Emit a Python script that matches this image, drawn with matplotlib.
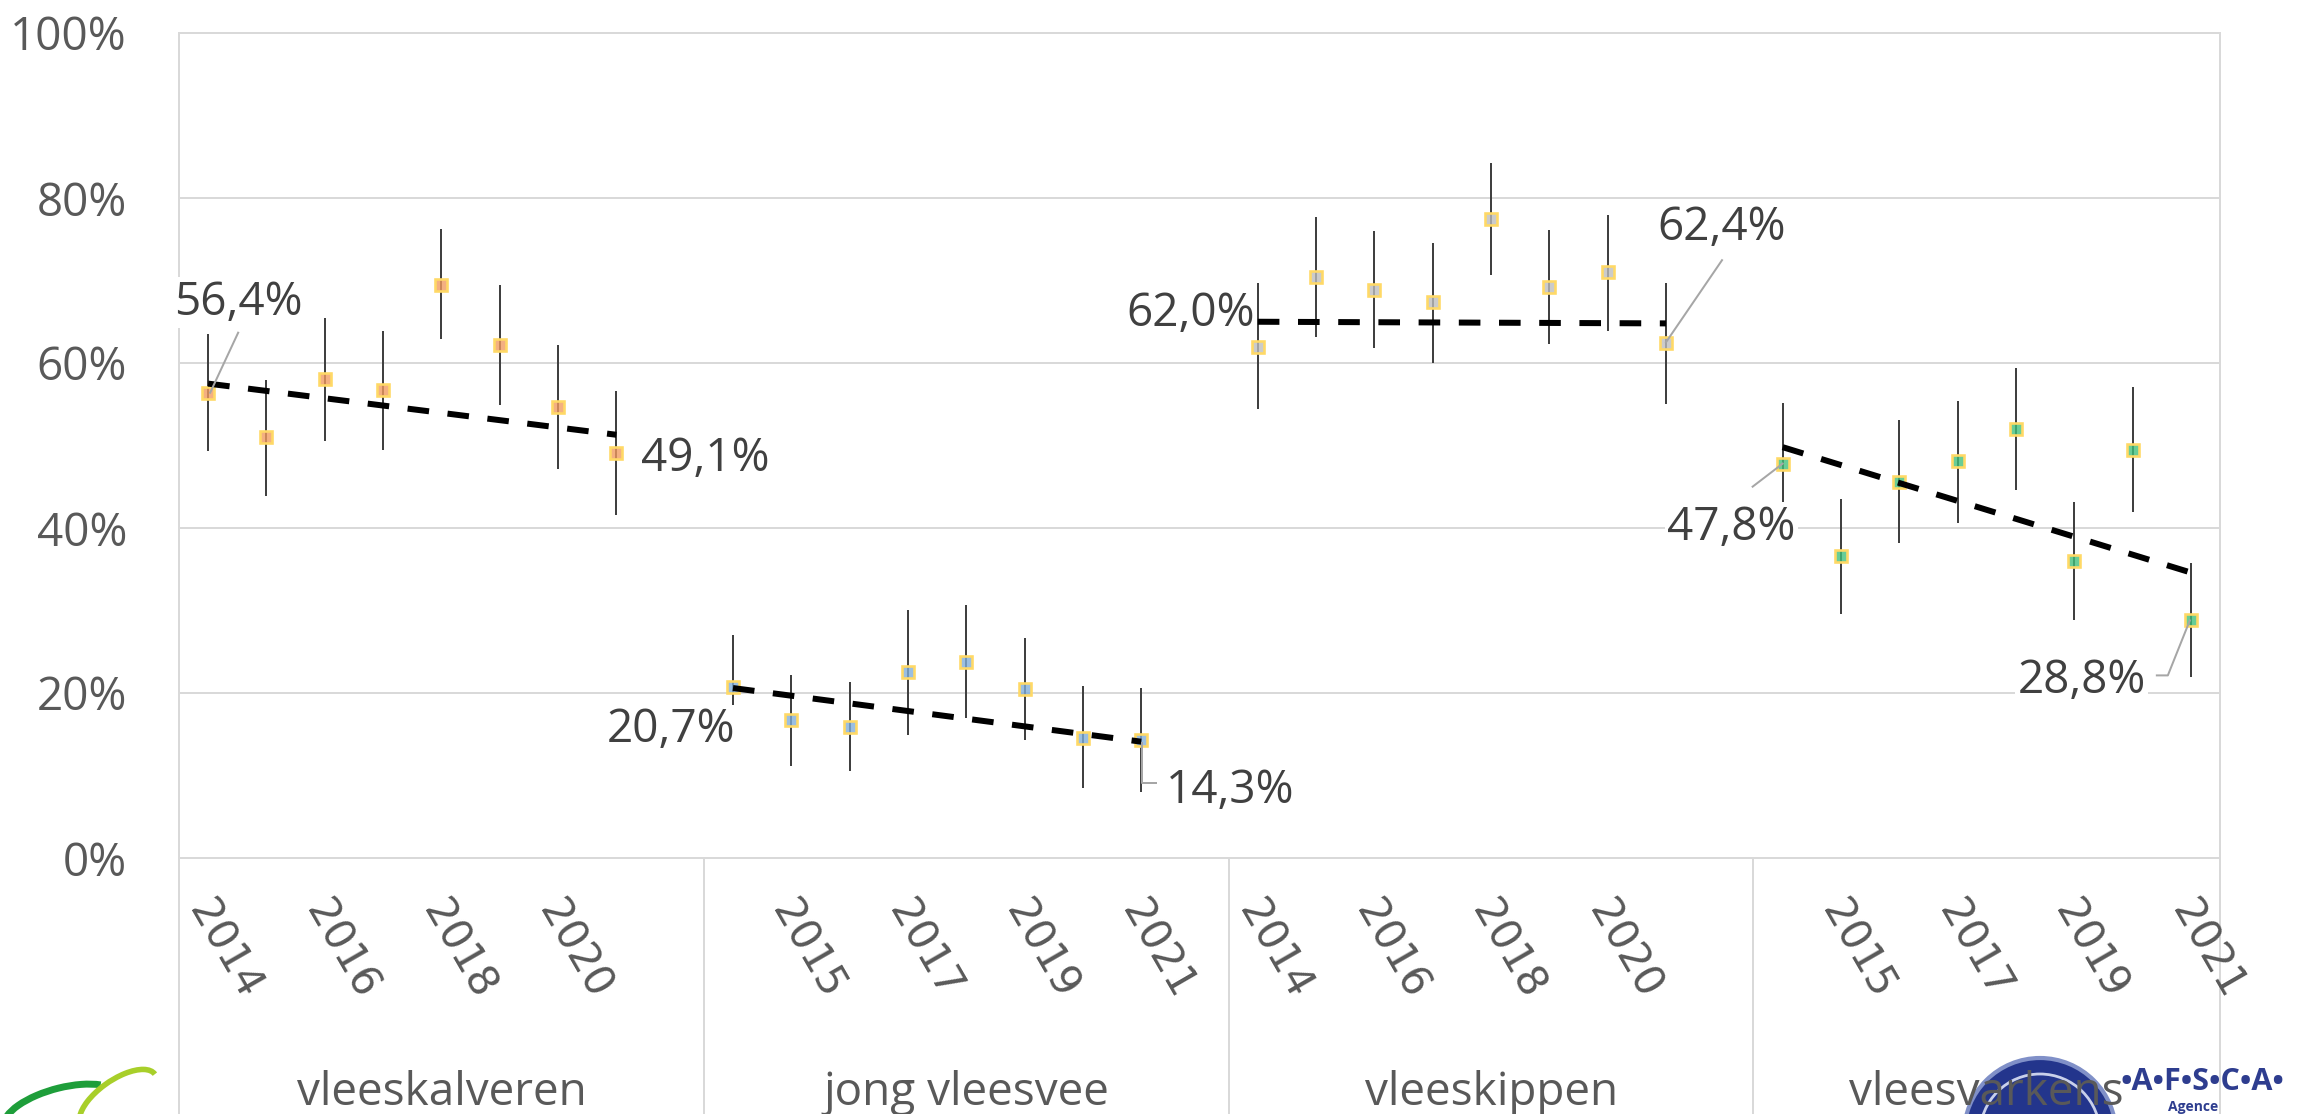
import numpy as np
import matplotlib
matplotlib.use("Agg")
import matplotlib.pyplot as plt
from matplotlib.lines import Line2D
from matplotlib.patches import Circle, Arc
from matplotlib.transforms import IdentityTransform, blended_transform_factory

# ---------------- data ----------------
groups = ["vleeskalveren", "jong vleesvee", "vleeskippen", "vleesvarkens"]
years = [2014, 2015, 2016, 2017, 2018, 2019, 2020, 2021]

kalveren = [56.4, 51.0, 58.1, 56.7, 69.5, 62.2, 54.7, 49.1]
kalveren_lo = [49.3, 43.9, 50.6, 49.5, 62.9, 54.9, 47.1, 41.6]
kalveren_hi = [63.5, 58.0, 65.4, 63.9, 76.2, 69.5, 62.2, 56.6]

jongvee = [20.7, 16.7, 15.9, 22.5, 23.8, 20.5, 14.6, 14.3]
jongvee_lo = [14.4, 11.2, 10.5, 14.9, 17.0, 14.3, 8.5, 8.0]
jongvee_hi = [27.0, 22.2, 21.3, 30.1, 30.7, 26.7, 20.8, 20.6]

kippen = [62.0, 70.4, 68.9, 67.4, 77.5, 69.2, 71.0, 62.4]
kippen_lo = [54.4, 63.1, 61.8, 60.0, 70.7, 62.3, 63.9, 55.0]
kippen_hi = [69.7, 77.7, 76.0, 74.6, 84.2, 76.1, 77.9, 69.7]

varkens = [47.8, 36.6, 45.6, 48.1, 52.0, 36.0, 49.5, 28.8]
varkens_lo = [40.4, 29.6, 38.2, 40.6, 44.6, 28.8, 41.9, 22.0]
varkens_hi = [55.2, 43.5, 53.1, 55.4, 59.4, 43.1, 57.1, 35.7]

trend_start = [57.5, 20.6, 65.0, 49.8]
trend_end = [51.3, 14.1, 64.8, 34.6]

series = [kalveren, jongvee, kippen, varkens]
series_lo = [kalveren_lo, jongvee_lo, kippen_lo, varkens_lo]
series_hi = [kalveren_hi, jongvee_hi, kippen_hi, varkens_hi]

yticks = [0, 20, 40, 60, 80, 100]

# ---------------- style ----------------
fill_colors = ["#F29A5E", "#7FAEDB", "#BDBDBD", "#3FC07A"]
edge_color = "#FFD966"
grid_color = "#D9D9D9"
txt_dark = "#404040"
txt_grey = "#595959"
FONT = ["Open Sans", "DejaVu Sans"]

W, H = 2315, 1114
L, R, T, B = 179, 2220, 33, 858
PT = 72 / 100.0  # points per pixel at dpi 100

fig = plt.figure(figsize=(W / 100, H / 100), dpi=100)
ax = fig.add_axes([L / W, 1 - B / H, (R - L) / W, (B - T) / H])
ax.patch.set_visible(False)

slots_per_group = 9
n_slots = slots_per_group * len(groups) - 1
ax.set_xlim(-0.5, n_slots - 0.5)
ax.set_ylim(0, 100)

# grid & spines
for s in ["top", "bottom"]:
    ax.spines[s].set_visible(False)
for s in ["left", "right"]:
    ax.spines[s].set_color(grid_color)
    ax.spines[s].set_linewidth(2 * PT)
ax.set_yticks(yticks)
ax.set_yticklabels([f"{v}%" for v in yticks], fontfamily=FONT, fontsize=33, color=txt_grey)
ax.tick_params(axis="y", length=0, pad=52 * PT)
ax.set_xticks([])
for v in yticks:
    ax.axhline(v, color=grid_color, lw=2 * PT, zorder=0.5, clip_on=False)

# group separators extending below axis
trans_xa = blended_transform_factory(ax.transData, ax.transAxes)
sep_positions = [g * slots_per_group - 0.5 for g in range(len(groups))] + [n_slots - 0.5]
below = -(H - B) / (B - T)
for xs in sep_positions:
    ax.add_line(Line2D([xs, xs], [0, below], transform=trans_xa, color=grid_color,
                       lw=2 * PT, clip_on=False, zorder=0.5))

# data
for g, (vals, lo, hi) in enumerate(zip(series, series_lo, series_hi)):
    xs = np.arange(len(years)) + g * slots_per_group
    ax.vlines(xs, lo, hi, color="#404040", lw=2 * PT, zorder=2)
    fc = matplotlib.colors.to_rgba(fill_colors[g], 0.78)
    ax.plot(xs, vals, "s", ms=12 * PT, mfc=fc, mec=edge_color, mew=2.6 * PT, zorder=3)
    ax.plot([xs[0], xs[-1]], [trend_start[g], trend_end[g]], color="black",
            lw=6 * PT, ls=(0, (3.6, 3.1)), dash_capstyle="butt", zorder=4)

# year labels (every second category)
for p in range(0, n_slots, 2):
    g, i = divmod(p, slots_per_group)
    if i >= len(years):
        continue
    ax.annotate(str(years[i]), xy=(p, 0), xytext=(-10, -46), textcoords="offset pixels",
                rotation=-60, rotation_mode="anchor", ha="left", va="center",
                fontsize=30, color=txt_grey, fontfamily="DejaVu Sans", annotation_clip=False)

# group labels
for g, name in enumerate(groups):
    x0 = g * slots_per_group - 0.5
    x1 = min(g * slots_per_group + 8.5, n_slots - 0.5)
    ax.annotate(name, xy=((x0 + x1) / 2, 0), xytext=(0, -247), textcoords="offset pixels",
                ha="center", va="baseline", fontsize=33, color=txt_grey, fontfamily=FONT,
                annotation_clip=False, zorder=10)

# data labels for first and last year of every group
label_offsets = {  # (group, year index): (dx px, dy px up)
    (0, 0): (30, 78), (0, 7): (89, -18),
    (1, 0): (-62, -55), (1, 7): (89, -63),
    (2, 0): (-67, 21), (2, 7): (56, 103),
    (3, 0): (-51, -76), (3, 7): (-109, -73),
}
leaders = {
    (0, 0): [(30, 60), (2, 0)],
    (1, 7): [(0.5, -3), (0.5, -43), (15, -43)],
    (2, 7): [(56, 83), (0, 1)],
    (3, 0): [(-30, -23), (0, 0)],
    (3, 7): [(-34, -55), (-23, -55), (-1, 0)],
}
fig.canvas.draw()
for (g, i), (dx, dy) in label_offsets.items():
    xv = g * slots_per_group + i
    yv = series[g][i]
    txt = f"{yv:.1f}".replace(".", ",") + "%"
    ax.annotate(txt, xy=(xv, yv), xytext=(dx, dy), textcoords="offset pixels",
                ha="center", va="baseline", fontsize=33, color=txt_dark, fontfamily=FONT,
                bbox=dict(boxstyle="square,pad=0.05", fc="white", ec="none"),
                zorder=6, annotation_clip=False)
    if (g, i) in leaders:
        px, py = ax.transData.transform((xv, yv))
        pts = leaders[(g, i)]
        fig.add_artist(Line2D([px + a for a, b in pts], [py + b for a, b in pts],
                              transform=IdentityTransform(), color="#A6A6A6",
                              lw=2 * PT, zorder=5))

# logos (approximate decorations, behind the axes texts)
idt = IdentityTransform()
fig.add_artist(Arc((62, H - 1112), 120, 48, angle=15, theta1=20, theta2=200,
                   transform=idt, color="#1E9E3A", lw=5, zorder=-1))
fig.add_artist(Arc((118, H - 1100), 90, 40, angle=35, theta1=0, theta2=230,
                   transform=idt, color="#A8CF2A", lw=4, zorder=-1))
fig.add_artist(Circle((2040, H - 1134), 76, transform=idt, fc="#23358C", ec="#8090C8",
                      lw=3, zorder=-1))
fig.add_artist(Circle((2040, H - 1134), 60, transform=idt, fc="none", ec="#C9D0EA",
                      lw=2, zorder=-1))
fig.text(2121 / W, (H - 1090) / H, "•A•F•S•C•A•", fontsize=22, fontweight="bold",
         color="#2E3D8F", fontfamily=FONT, ha="left", va="baseline", zorder=-1)
fig.text(2168 / W, (H - 1111) / H, "Agence", fontsize=10, fontweight="bold",
         color="#2E3D8F", fontfamily=FONT, ha="left", va="baseline", zorder=-1)

fig.savefig("out.png", dpi=100, facecolor="white")
